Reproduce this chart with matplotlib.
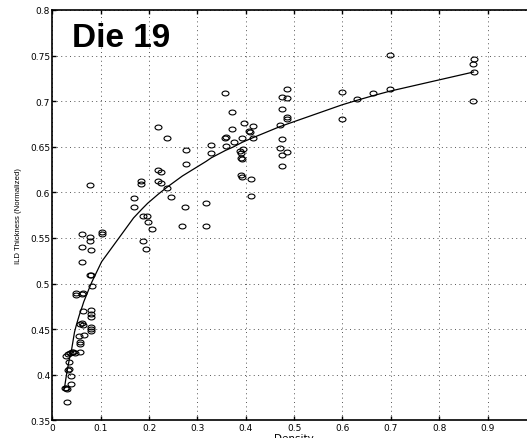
import numpy as np
import matplotlib
matplotlib.use("Agg")
import matplotlib.pyplot as plt
from matplotlib.path import Path
from matplotlib.transforms import Affine2D

# ---- data ----
density = [
    0.031, 0.026, 0.029, 0.031, 0.039, 0.039, 0.033, 0.034, 0.035, 0.029,
    0.033, 0.036, 0.040, 0.043, 0.046, 0.058, 0.057, 0.058, 0.055, 0.065,
    0.057, 0.062, 0.063, 0.063, 0.080, 0.080, 0.080, 0.080, 0.080, 0.080,
    0.048, 0.050, 0.062, 0.064, 0.082, 0.078, 0.081, 0.062, 0.062, 0.061,
    0.078, 0.078, 0.081, 0.102, 0.102, 0.078,
    0.187, 0.194, 0.197, 0.206, 0.269, 0.318, 0.188, 0.196, 0.168, 0.168,
    0.184, 0.184, 0.219, 0.224, 0.219, 0.225, 0.238, 0.245, 0.274, 0.317,
    0.218, 0.238, 0.277, 0.277, 0.329, 0.329, 0.358, 0.372, 0.372, 0.358,
    0.360, 0.360, 0.375, 0.393, 0.396, 0.406, 0.408, 0.415, 0.415, 0.395,
    0.389, 0.391, 0.391, 0.393, 0.391, 0.393, 0.410, 0.410,
    0.486, 0.475, 0.486, 0.475, 0.486, 0.486, 0.470, 0.475, 0.470, 0.486,
    0.475, 0.475, 0.599, 0.599, 0.630, 0.663, 0.698, 0.698, 0.871, 0.870,
    0.871, 0.870,
]
thickness = [
    0.370, 0.386, 0.385, 0.384, 0.390, 0.399, 0.405, 0.406, 0.414, 0.421,
    0.423, 0.424, 0.425, 0.425, 0.424, 0.425, 0.434, 0.436, 0.443, 0.444,
    0.456, 0.457, 0.455, 0.470, 0.471, 0.467, 0.463, 0.452, 0.450, 0.448,
    0.488, 0.490, 0.489, 0.490, 0.497, 0.509, 0.509, 0.524, 0.540, 0.554,
    0.551, 0.547, 0.537, 0.557, 0.554, 0.608,
    0.547, 0.538, 0.567, 0.560, 0.563, 0.563, 0.574, 0.574, 0.594, 0.584,
    0.612, 0.609, 0.625, 0.622, 0.612, 0.610, 0.605, 0.595, 0.584, 0.588,
    0.672, 0.660, 0.646, 0.631, 0.652, 0.643, 0.709, 0.688, 0.670, 0.660,
    0.661, 0.651, 0.655, 0.660, 0.676, 0.667, 0.666, 0.673, 0.660, 0.648,
    0.645, 0.643, 0.638, 0.637, 0.619, 0.617, 0.615, 0.596,
    0.713, 0.705, 0.704, 0.691, 0.683, 0.680, 0.674, 0.659, 0.649, 0.644,
    0.641, 0.629, 0.710, 0.680, 0.702, 0.709, 0.713, 0.751, 0.746, 0.741,
    0.732, 0.700,
]

# fitted curve vertices
fit_density = [0.025, 0.029, 0.033, 0.036, 0.040, 0.046, 0.050, 0.055, 0.058,
               0.062, 0.065, 0.078, 0.082, 0.102, 0.168, 0.184, 0.197, 0.219,
               0.238, 0.269, 0.318, 0.329, 0.358, 0.375, 0.393, 0.415, 0.470,
               0.486, 0.599, 0.630, 0.663, 0.698, 0.871]
fit_thickness = [0.385, 0.399, 0.411, 0.419, 0.428, 0.447, 0.455, 0.464, 0.469,
                 0.475, 0.480, 0.497, 0.502, 0.524, 0.572, 0.581, 0.588, 0.598,
                 0.606, 0.618, 0.634, 0.638, 0.646, 0.650, 0.655, 0.660, 0.672,
                 0.675, 0.696, 0.701, 0.706, 0.711, 0.732]

x_ticks = [0, 0.1, 0.2, 0.3, 0.4, 0.5, 0.6, 0.7, 0.8, 0.9]
x_tick_labels = ["0", "0.1", "0.2", "0.3", "0.4", "0.5", "0.6", "0.7", "0.8", "0.9"]
y_ticks = [0.35, 0.4, 0.45, 0.5, 0.55, 0.6, 0.65, 0.7, 0.75, 0.8]
y_tick_labels = ["0.35", "0.4", "0.45", "0.5", "0.55", "0.6", "0.65", "0.7", "0.75", "0.8"]

plt.rcParams['font.family'] = ['DejaVu Sans']

fig = plt.figure(figsize=(5.27, 4.39), dpi=100)
ax = fig.add_axes([52.3 / 527, 17.6 / 439, 483.6 / 527, 410.4 / 439])

circ = Path.unit_circle()
ellipse = circ.transformed(Affine2D().scale(1.0, 0.7))

ax.plot(density, thickness, linestyle='none', marker=ellipse, markersize=5.0,
        markerfacecolor='none', markeredgecolor='black', markeredgewidth=0.8)
ax.plot(fit_density, fit_thickness, color='black', linewidth=0.9)

ax.set_xlim(0, 1)
ax.set_ylim(0.35, 0.8)
ax.set_xticks(x_ticks)
ax.set_xticklabels(x_tick_labels)
ax.set_yticks(y_ticks)
ax.set_yticklabels(y_tick_labels)

ax.grid(True, color='#555555', linewidth=0.7, linestyle=(0, (1, 3.5)))
ax.tick_params(direction='in', top=True, right=True, length=3, width=1.0,
               labelsize=6.5, pad=2)
ax.tick_params(axis='y', pad=1.5)
for s in ax.spines.values():
    s.set_linewidth(1.2)

ax.set_xlabel('Density', fontsize=7.5)
ax.xaxis.set_label_coords(0.5, -0.030)
ax.set_ylabel('ILD Thickness (Normalized)', fontsize=5.6, family='Liberation Sans')
ax.yaxis.set_label_coords(-0.062, 0.5)

ax.text(0.040, 0.9116, 'Die 19', transform=ax.transAxes, fontsize=24,
        fontweight='bold', family='Liberation Sans', va='baseline', ha='left')

fig.savefig('out.png', dpi=100)
